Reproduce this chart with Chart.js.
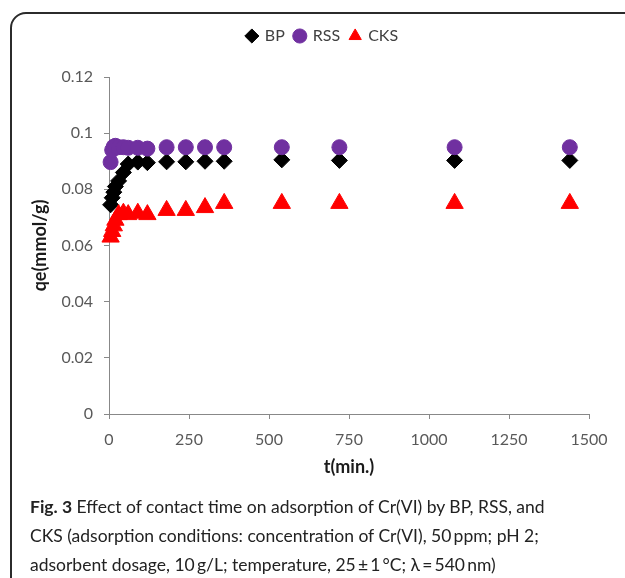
<!DOCTYPE html>
<html>
<head>
<meta charset="utf-8">
<script src="https://cdn.jsdelivr.net/npm/chart.js@4.4.0/dist/chart.umd.min.js"></script>
<style>
  body { margin: 0; background: #fff; }
  #wrap { position: relative; width: 625px; height: 578px; overflow: hidden; }
  #myChart { position: absolute; left: 0; top: 0; }
  #frame {
    position: absolute; left: 10px; top: 12px; width: 660px; height: 640px;
    border: 2px solid #2b2b2b; border-radius: 16px; pointer-events: none;
  }
  #caption {
    position: absolute; left: 30px; top: 492px; width: 600px;
    font-family: Lato, sans-serif; font-size: 17.5px; line-height: 29px; color: #222;
    white-space: nowrap;
  }
  #caption b { font-weight: bold; }
</style>
</head>
<body>
<div id="wrap">
  <canvas id="myChart" width="625" height="485"></canvas>
  <div id="frame"></div>
  <div id="caption">
    <b>Fig. 3</b> Effect of contact time on adsorption of Cr(VI) by BP, RSS, and<br>
    CKS (adsorption conditions: concentration of Cr(VI), 50&#8201;ppm; pH 2;<br>
    adsorbent dosage, 10&#8201;g/L; temperature, 25&#8201;±&#8201;1&#8201;°C; λ&#8201;=&#8201;540&#8201;nm)
  </div>
</div>
<script>
// contact time (min)
const times = [5, 10, 15, 20, 30, 45, 60, 90, 120, 180, 240, 300, 360, 540, 720, 1080, 1440];
// qe (mmol/g)
const bp = [0.0745, 0.077, 0.079, 0.081, 0.083, 0.086, 0.089, 0.0897, 0.0895, 0.0898, 0.0898, 0.0900, 0.0900, 0.0905, 0.0903, 0.0903, 0.0903];
const rss = [0.0897, 0.094, 0.0952, 0.0955, 0.0950, 0.0950, 0.0948, 0.0948, 0.0945, 0.0950, 0.0950, 0.0950, 0.0950, 0.0950, 0.0950, 0.0950, 0.0950];
const cks = [0.063, 0.065, 0.067, 0.069, 0.071, 0.0715, 0.071, 0.0715, 0.071, 0.0725, 0.0725, 0.0735, 0.075, 0.075, 0.075, 0.075, 0.075];
const seriesNames = ["BP", "RSS", "CKS"];
const xTicks = [0, 250, 500, 750, 1000, 1250, 1500];
const yTicks = [0, 0.02, 0.04, 0.06, 0.08, 0.1, 0.12];

function toPoints(vals) {
  return times.map((t, i) => ({ x: t, y: vals[i] }));
}

const tickFont = { family: "Lato", size: 16 };
const titleFont = { family: "Lato", size: 18, weight: "bold" };

// make room under the legend
const legendSpace = {
  id: "legendSpace",
  beforeInit(chart) {
    const fit = chart.legend.fit;
    chart.legend.fit = function () {
      fit.bind(chart.legend)();
      this.height = 59;
    };
  },
};

let ctx = document.getElementById("myChart").getContext("2d");
let myChart = new Chart(ctx, {
  type: "scatter",
  data: {
    datasets: [
      {
        label: seriesNames[0],
        data: toPoints(bp),
        pointStyle: "rectRot",
        pointRadius: 8,
        backgroundColor: "#000000",
        borderColor: "#000000",
        borderWidth: 1,
        clip: false,
        order: 3,
      },
      {
        label: seriesNames[1],
        data: toPoints(rss),
        pointStyle: "circle",
        pointRadius: 7.5,
        backgroundColor: "#7030A0",
        borderColor: "#7030A0",
        borderWidth: 1,
        clip: false,
        order: 2,
      },
      {
        label: seriesNames[2],
        data: toPoints(cks),
        pointStyle: "triangle",
        pointRadius: 10,
        backgroundColor: "#FF0000",
        borderColor: "#FF0000",
        borderWidth: 1,
        clip: false,
        order: 1,
      },
    ],
  },
  plugins: [legendSpace],
  options: {
    responsive: false,
    animation: false,
    layout: { padding: { top: 18, left: 20, right: 0, bottom: 0 } },
    plugins: {
      tooltip: { enabled: false },
      legend: {
        position: "top",
        labels: {
          usePointStyle: true,
          boxWidth: 10,
          boxHeight: 10,
          padding: 10,
          color: "#404040",
          font: tickFont,
          sort: (a, b) => a.datasetIndex - b.datasetIndex,
        },
      },
    },
    scales: {
      x: {
        type: "linear",
        min: 0,
        max: 1500,
        afterBuildTicks: (axis) => {
          axis.ticks = xTicks.map((v) => ({ value: v }));
        },
        afterFit: (axis) => {
          axis.height = 71;
        },
        grid: { drawOnChartArea: false, tickLength: 5, color: "#888888" },
        border: { color: "#888888" },
        ticks: {
          color: "#595959",
          font: tickFont,
          padding: 11,
          maxRotation: 0,
          callback: (v) => String(v),
        },
        title: {
          display: true,
          text: "t(min.)",
          color: "#1a1a1a",
          font: titleFont,
          padding: { top: 0, bottom: 7 },
        },
      },
      y: {
        min: 0,
        max: 0.12,
        afterBuildTicks: (axis) => {
          axis.ticks = yTicks.map((v) => ({ value: v }));
        },
        afterFit: (axis) => {
          axis.width = 89;
        },
        grid: { drawOnChartArea: false, tickLength: 5, color: "#888888" },
        border: { color: "#888888" },
        ticks: {
          color: "#595959",
          font: tickFont,
          padding: 11,
          callback: (v) => String(Math.round(v * 100) / 100),
        },
        title: {
          display: true,
          text: "qe(mmol/g)",
          color: "#1a1a1a",
          font: titleFont,
          padding: { top: 9, bottom: 0 },
        },
      },
      y2: {
        position: "right",
        display: true,
        afterFit: (axis) => {
          axis.width = 36;
        },
        grid: { display: false },
        border: { display: false },
        ticks: { display: false },
      },
    },
  },
});
</script>
</body>
</html>
